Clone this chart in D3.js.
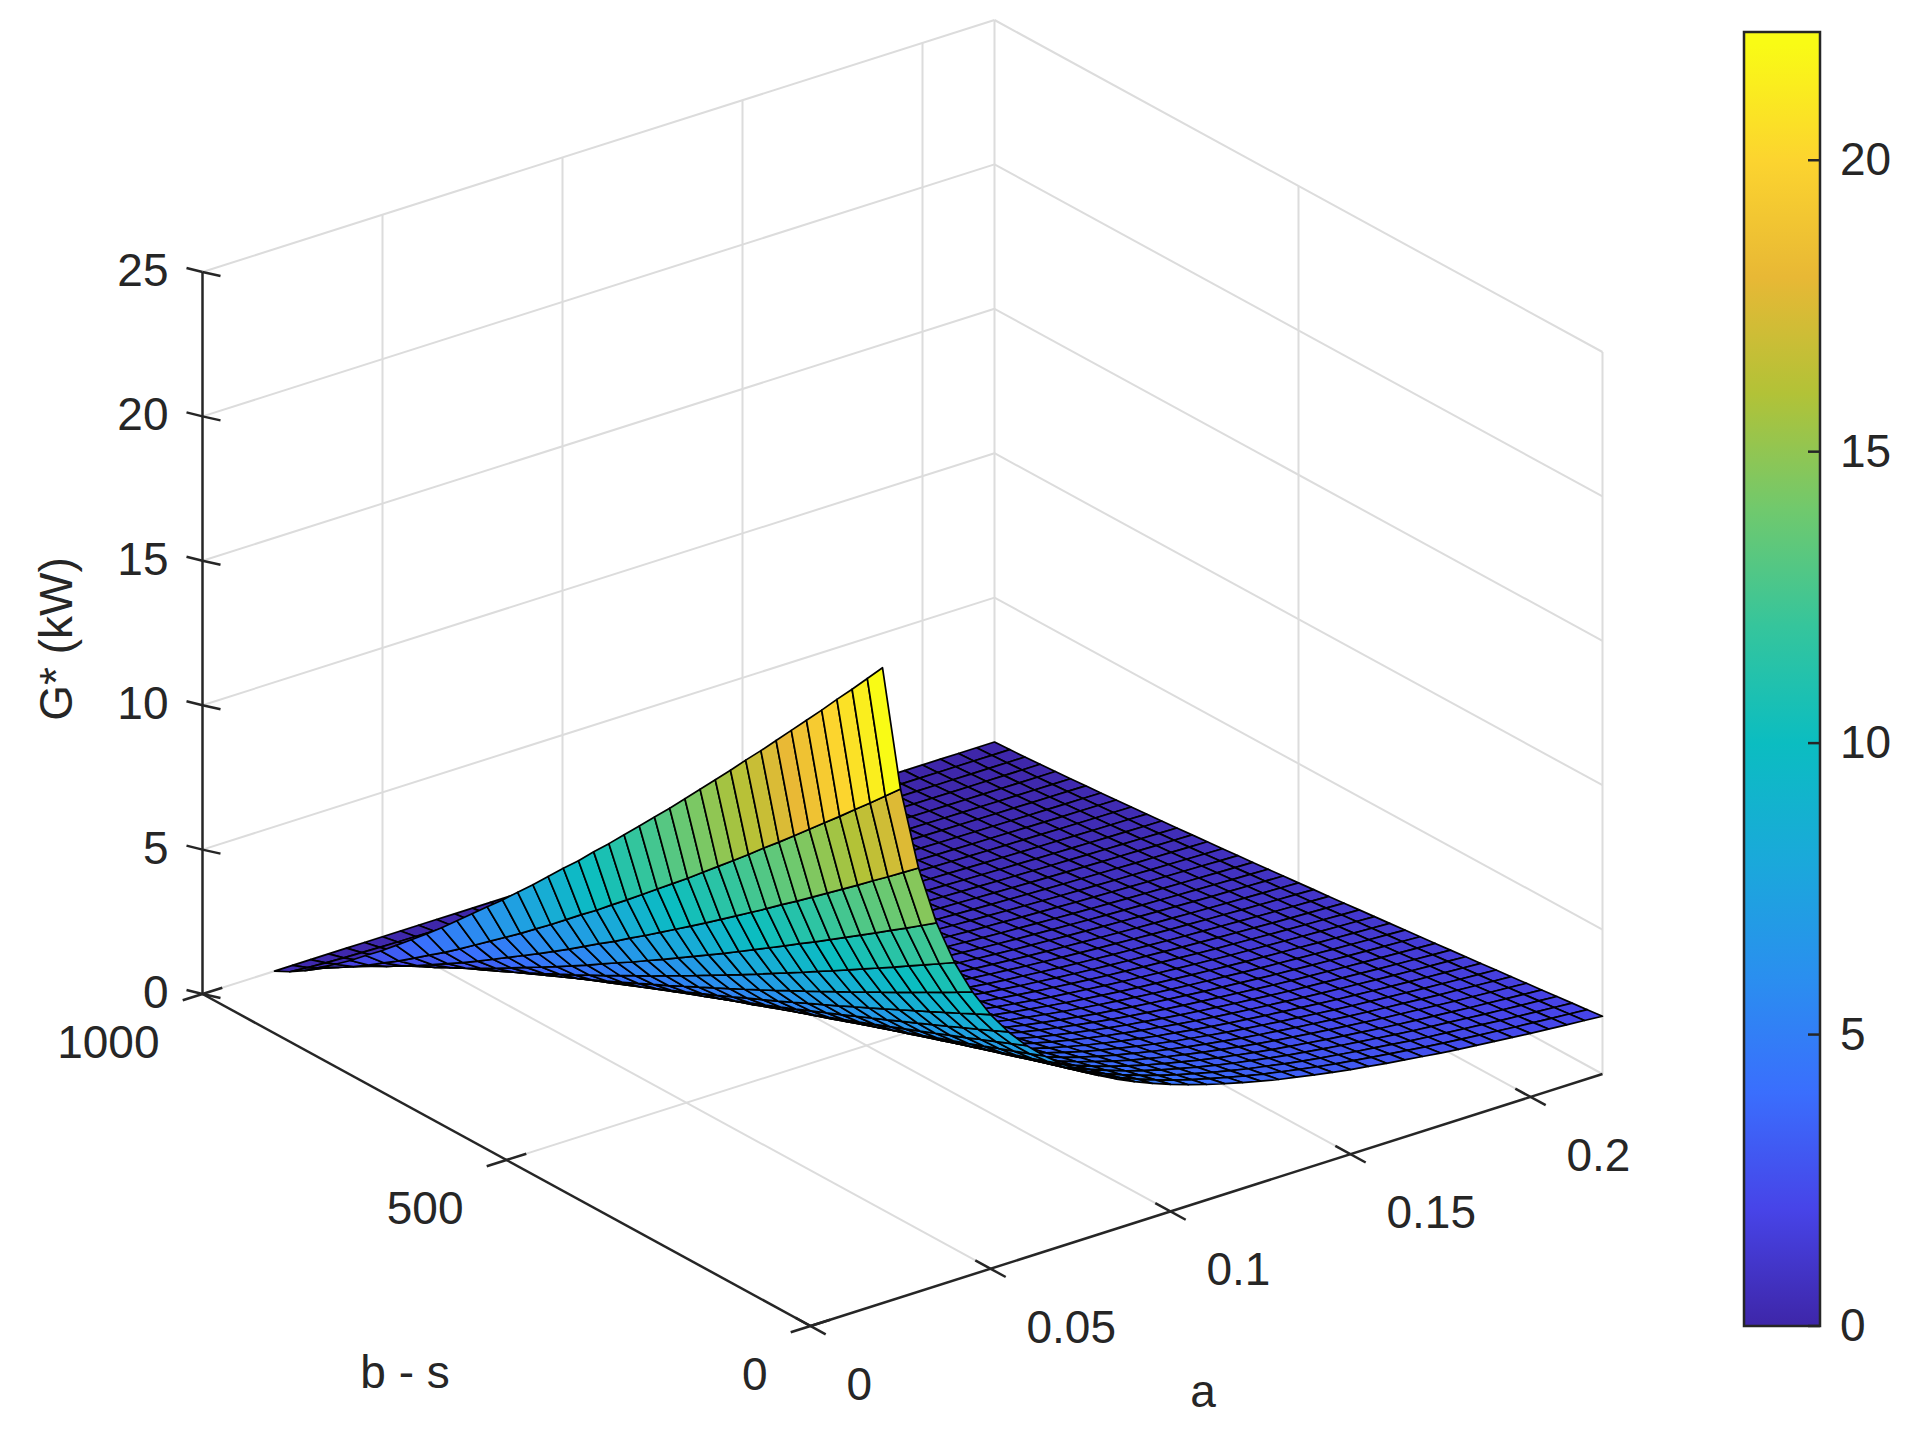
<!DOCTYPE html>
<html lang=en>
<head>
<meta charset="utf-8">
<title>G* surface</title>
<script src="https://d3js.org/d3.v7.min.js"></script>
<style>
  body { margin: 0; background: #fff; }
  text { font-family: "Liberation Sans", Arial, sans-serif; fill: #262626; }
</style>
</head>
<body>
<script>
// grid values
var aValues = d3.range(41).map(function(i){ return +(0.02 + i*0.005).toFixed(3); });
var bsValues = d3.range(41).map(function(i){ return i*25; });
// G* along the b-s = 0 edge, one per a value
var gFront = [22.0,17.6,14.67,12.57,11.0,9.78,8.8,8.0,7.33,6.77,6.29,5.87,5.5,5.18,4.89,4.63,4.4,4.19,4.0,3.83,
  3.67,3.52,3.38,3.26,3.14,3.03,2.93,2.84,2.75,2.67,2.59,2.51,2.44,2.38,2.32,2.26,2.2,2.15,2.1,2.05,2.0];
// relative drop of G* along b - s, one per b - s value
var bsFactor = [1,.970,.940,.911,.881,.852,.823,.794,.765,.737,.708,.680,.652,.624,.596,.569,.542,.515,.488,.462,
  .435,.410,.384,.358,.333,.308,.284,.260,.236,.212,.189,.167,.145,.123,.103,.082,.063,.045,.027,.012,0];
var aTicks = [0, 0.05, 0.1, 0.15, 0.2];
var aTickLabels = ["0","0.05","0.1","0.15","0.2"];
var bsTicks = [0, 500, 1000];
var zTicks = [0, 5, 10, 15, 20, 25];
var cTicks = [0, 5, 10, 15, 20];

var W = 1925, H = 1445;
var svg = d3.select('body').append('svg').attr('width', W).attr('height', H);

// projection: origin (a=0, b-s=0, z=0) and the screen vectors of each axis
var O = [810.5, 1326];
var A = [792, -252], B = [-608, -332], Zv = [0, -722];
var sa = d3.scaleLinear().domain([0, 0.22]).range([0, 1]);
var sb = d3.scaleLinear().domain([0, 1000]).range([0, 1]);
var sz = d3.scaleLinear().domain([0, 25]).range([0, 1]);
function proj(a, b, z){
  var ua = sa(a), ub = sb(b), uz = sz(z);
  return [O[0] + ua*A[0] + ub*B[0] + uz*Zv[0], O[1] + ua*A[1] + ub*B[1] + uz*Zv[1]];
}

// parula-like colour map
var parula = ["#3e26a8","#4744e8","#3a6efd","#2a8fef","#1aa9da","#0bbdc1","#35c59c","#70c96d","#b2c237","#e8b835","#fcd42f","#f9fb15"];
var color = d3.scaleLinear().domain(d3.range(parula.length).map(function(i){ return 22*i/(parula.length-1); }))
  .range(parula).clamp(true);

// grid lines on back walls and floor
var grid = svg.append('g').attr('stroke', '#dcdcdc').attr('stroke-width', 2).attr('fill', 'none');
function seg(g, p, q, col, w){
  g.append('line').attr('x1', p[0]).attr('y1', p[1]).attr('x2', q[0]).attr('y2', q[1])
    .attr('stroke', col || null).attr('stroke-width', w || null);
}
zTicks.forEach(function(z){
  if (z === 0) return;
  seg(grid, proj(0, 1000, z), proj(0.22, 1000, z));
  seg(grid, proj(0.22, 1000, z), proj(0.22, 0, z));
});
aTicks.forEach(function(a){
  if (a === 0) return;
  seg(grid, proj(a, 1000, 0), proj(a, 1000, 25));
  seg(grid, proj(a, 0, 0), proj(a, 1000, 0));
});
seg(grid, proj(0.22, 1000, 0), proj(0.22, 1000, 25));
seg(grid, proj(0.22, 0, 0), proj(0.22, 0, 25));
seg(grid, proj(0.22, 500, 0), proj(0.22, 500, 25));
seg(grid, proj(0, 500, 0), proj(0.22, 500, 0));
seg(grid, proj(0, 1000, 0), proj(0.22, 1000, 0));
seg(grid, proj(0.22, 0, 0), proj(0.22, 1000, 0));

// surface quads
var quads = [];
for (var i = 0; i < aValues.length - 1; i++){
  for (var j = 0; j < bsValues.length - 1; j++){
    var g = function(ii, jj){ return gFront[ii]*bsFactor[jj]; };
    var pts = [[i,j],[i+1,j],[i+1,j+1],[i,j+1]].map(function(p){
      return proj(aValues[p[0]], bsValues[p[1]], g(p[0], p[1]));
    });
    var base = proj((aValues[i]+aValues[i+1])/2, (bsValues[j]+bsValues[j+1])/2, 0);
    quads.push({pts: pts, depth: base[1], v: g(i, j)});
  }
}
quads.sort(function(p, q){ return p.depth - q.depth; });
svg.append('g').selectAll('path').data(quads).enter().append('path')
  .attr('d', function(d){ return 'M' + d.pts.join('L') + 'Z'; })
  .attr('fill', function(d){ return color(d.v); })
  .attr('stroke', '#000').attr('stroke-width', 1.7).attr('stroke-linejoin', 'round');

// axes
var ax = svg.append('g').attr('stroke', '#262626').attr('stroke-width', 2.5);
seg(ax, proj(0, 0, 0), proj(0.22, 0, 0));
seg(ax, proj(0, 0, 0), proj(0, 1000, 0));
seg(ax, proj(0, 1000, 0), proj(0, 1000, 25));
aTicks.forEach(function(a){
  seg(ax, proj(a, -25, 0), proj(a, 25, 0));
});
bsTicks.forEach(function(b){
  seg(ax, proj(-0.0055, b, 0), proj(0.0055, b, 0));
});
zTicks.forEach(function(z){
  var p = proj(0, 1000, z);
  seg(ax, p, [p[0] + 18, p[1] + 4]);
  seg(ax, p, [p[0] - 16, p[1] - 4]);
});

var FS = 46;
var labels = svg.append('g').attr('font-size', FS);
zTicks.forEach(function(z){
  var p = proj(0, 1000, z);
  labels.append('text').attr('x', p[0] - 34).attr('y', p[1] + 14).attr('text-anchor', 'end').text(z);
});
aTicks.forEach(function(a, k){
  var p = proj(a, 0, 0);
  labels.append('text').attr('x', p[0] + 36).attr('y', p[1] + 74).attr('text-anchor', 'start').text(aTickLabels[k]);
});
bsTicks.forEach(function(b){
  var p = proj(0, b, 0);
  labels.append('text').attr('x', p[0] - 43).attr('y', p[1] + 64).attr('text-anchor', 'end').text(b);
});
labels.append('text').attr('x', 405).attr('y', 1388).attr('text-anchor', 'middle').text('b - s');
labels.append('text').attr('x', 1203).attr('y', 1407).attr('text-anchor', 'middle').text('a');
labels.append('text').attr('transform', 'translate(72,639) rotate(-90)').attr('text-anchor', 'middle').text('G* (kW)');

// colour bar
var cb = svg.append('g');
var cy = d3.scaleLinear().domain([0, 22.2]).range([1326, 32]);
var defs = svg.append('defs');
var grad = defs.append('linearGradient').attr('id', 'cbar').attr('x1', 0).attr('y1', 1).attr('x2', 0).attr('y2', 0);
parula.forEach(function(c, k){
  grad.append('stop').attr('offset', (22/22.2)*k/(parula.length-1)).attr('stop-color', c);
});
grad.append('stop').attr('offset', 1).attr('stop-color', parula[parula.length-1]);
cb.append('rect').attr('x', 1744).attr('y', cy(22.2)).attr('width', 76).attr('height', cy(0) - cy(22.2))
  .attr('fill', 'url(#cbar)').attr('stroke', '#262626').attr('stroke-width', 2.5);
cTicks.forEach(function(t){
  seg(cb, [1808, cy(t)], [1820, cy(t)], '#262626', 2.5);
  cb.append('text').attr('x', 1840).attr('y', cy(t) + 15).attr('font-size', FS).text(t);
});
</script>
</body>
</html>
